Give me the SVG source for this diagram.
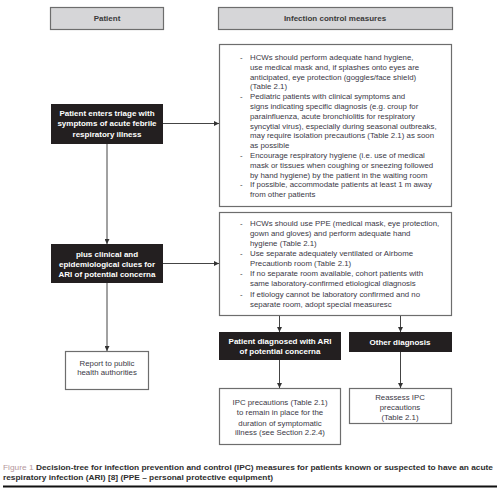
<svg xmlns="http://www.w3.org/2000/svg" width="500" height="488" viewBox="0 0 500 488">
<defs>
<marker id="ah" viewBox="0 0 6 6" refX="6" refY="3" markerWidth="5" markerHeight="5" orient="auto" markerUnits="userSpaceOnUse">
<path d="M0,0 L6,3 L0,6 z" fill="#333"/>
</marker>
<style>
.hdr{fill:#d6d6d8;stroke:#6d6d6d;stroke-width:1.2}
.box{fill:#fff;stroke:#6d6d6d;stroke-width:1.2}
.dark{fill:#231f20;stroke:none}
.ht{font-family:"Liberation Sans",Arial,sans-serif;font-size:8px;font-weight:bold;fill:#3a3a3a;text-anchor:middle}
.wt{font-family:"Liberation Sans",Arial,sans-serif;font-size:8px;font-weight:bold;fill:#fff;text-anchor:middle}
.bt{font-family:"Liberation Sans",Arial,sans-serif;font-size:7.85px;fill:#3b3946}
.ct{text-anchor:middle}
.cap{font-family:"Liberation Sans",Arial,sans-serif;font-size:8px;font-weight:bold;fill:#2e2e2e}
.conn{stroke:#444;stroke-width:1;fill:none;marker-end:url(#ah)}
</style>
</defs>
<rect width="500" height="488" fill="#fff"/>

<g id="hdr-patient">
<rect class="hdr" x="50.5" y="7.5" width="113" height="22"/>
<text class="ht" x="107" y="21">Patient</text>
</g>
<g id="hdr-icm">
<rect class="hdr" x="218.5" y="7.5" width="234" height="22"/>
<text class="ht" x="335" y="21">Infection control measures</text>
</g>

<g id="triage">
<rect class="dark" x="51" y="104" width="112" height="40"/>
<text class="wt" x="107" y="116">Patient enters triage with</text>
<text class="wt" x="107" y="126">symptoms of acute febrile</text>
<text class="wt" x="107" y="137">respiratory illness</text>
</g>

<g id="plus">
<rect class="dark" x="51" y="244" width="112" height="39"/>
<text class="wt" x="107" y="257">plus clinical and</text>
<text class="wt" x="107" y="267">epidemiological clues for</text>
<text class="wt" x="107" y="277">ARI of potential concerna</text>
</g>

<g id="report">
<rect class="box" x="65.5" y="351.5" width="83" height="38"/>
<text class="bt ct" x="107" y="366">Report to public</text>
<text class="bt ct" x="107" y="375">health authorities</text>
</g>

<g id="measures1">
<rect class="box" x="219.5" y="44.5" width="232" height="162"/>
<g class="bt">
<text x="240" y="60">-</text>
<text x="250" y="60">HCWs should perform adequate hand hygiene,</text>
<text x="250" y="69.8">use medical mask and, if splashes onto eyes are</text>
<text x="250" y="79.6">anticipated, eye protection (goggles/face shield)</text>
<text x="250" y="89.4">(Table 2.1)</text>
<text x="240" y="99.2">-</text>
<text x="250" y="99.2">Pediatric patients with clinical symptoms and</text>
<text x="250" y="109">signs indicating specific diagnosis (e.g. croup for</text>
<text x="250" y="118.8">parainfluenza, acute bronchiolitis for respiratory</text>
<text x="250" y="128.6">syncytial virus), especially during seasonal outbreaks,</text>
<text x="250" y="138.4">may require isolation precautions (Table 2.1) as soon</text>
<text x="250" y="148.2">as possible</text>
<text x="240" y="158">-</text>
<text x="250" y="158">Encourage respiratory hygiene (i.e. use of medical</text>
<text x="250" y="167.8">mask or tissues when coughing or sneezing followed</text>
<text x="250" y="177.6">by hand hygiene) by the patient in the waiting room</text>
<text x="240" y="187.4">-</text>
<text x="250" y="187.4">If possible, accommodate patients at least 1 m away</text>
<text x="250" y="197.2">from other patients</text>
</g>
</g>

<g id="measures2">
<rect class="box" x="219.5" y="212.5" width="232" height="103"/>
<g class="bt">
<text x="240" y="226">-</text>
<text x="250" y="226">HCWs should use PPE (medical mask, eye protection,</text>
<text x="250" y="236">gown and gloves) and perform adequate hand</text>
<text x="250" y="246">hygiene (Table 2.1)</text>
<text x="240" y="256">-</text>
<text x="250" y="256">Use separate adequately ventilated or Airbome</text>
<text x="250" y="266">Precautionb room (Table 2.1)</text>
<text x="240" y="276">-</text>
<text x="250" y="276">If no separate room available, cohort patients with</text>
<text x="250" y="286">same laboratory-confirmed etiological diagnosis</text>
<text x="240" y="297">-</text>
<text x="250" y="297">If etiology cannot be laboratory confirmed and no</text>
<text x="250" y="307">separate room, adopt special measuresc</text>
</g>
</g>

<g id="diagnosed">
<rect class="dark" x="219" y="332" width="122" height="28"/>
<text class="wt" x="280" y="344">Patient diagnosed with ARI</text>
<text class="wt" x="280" y="354">of potential concerna</text>
</g>

<g id="other">
<rect class="dark" x="349" y="332" width="103" height="20"/>
<text class="wt" x="400" y="344.5">Other diagnosis</text>
</g>

<g id="ipc">
<rect class="box" x="219.5" y="388.5" width="121" height="56"/>
<text class="bt ct" x="280" y="405">IPC precautions (Table 2.1)</text>
<text class="bt ct" x="280" y="415">to remain in place for the</text>
<text class="bt ct" x="280" y="425.5">duration of symptomatic</text>
<text class="bt ct" x="280" y="435">illness (see Section 2.2.4)</text>
</g>

<g id="reassess">
<rect class="box" x="349.5" y="388.5" width="102" height="35"/>
<text class="bt ct" x="400" y="400">Reassess IPC</text>
<text class="bt ct" x="400" y="410">precautions</text>
<text class="bt ct" x="400" y="420">(Table 2.1)</text>
</g>

<g id="connectors">
<line class="conn" x1="107" y1="144" x2="107" y2="244"/>
<line class="conn" x1="107" y1="283" x2="107" y2="351"/>
<line class="conn" x1="163" y1="123.5" x2="219" y2="123.5"/>
<line class="conn" x1="163" y1="263.5" x2="219" y2="263.5"/>
<line class="conn" x1="279.5" y1="316" x2="279.5" y2="332"/>
<line class="conn" x1="400.5" y1="316" x2="400.5" y2="332"/>
<line class="conn" x1="279.5" y1="360" x2="279.5" y2="388"/>
<line class="conn" x1="400.5" y1="352" x2="400.5" y2="388"/>
</g>

<g id="caption">
<text class="cap" x="3" y="470" textLength="490" lengthAdjust="spacingAndGlyphs"><tspan fill="#b5979d" font-weight="normal">Figure 1 </tspan>Decision-tree for infection prevention and control (IPC) measures for patients known or suspected to have an acute</text>
<text class="cap" x="3" y="480" textLength="270" lengthAdjust="spacingAndGlyphs">respiratory infection (ARI) [8] (PPE – personal protective equipment)</text>
<rect x="3" y="485.5" width="494" height="2" fill="#111"/>
</g>
</svg>
